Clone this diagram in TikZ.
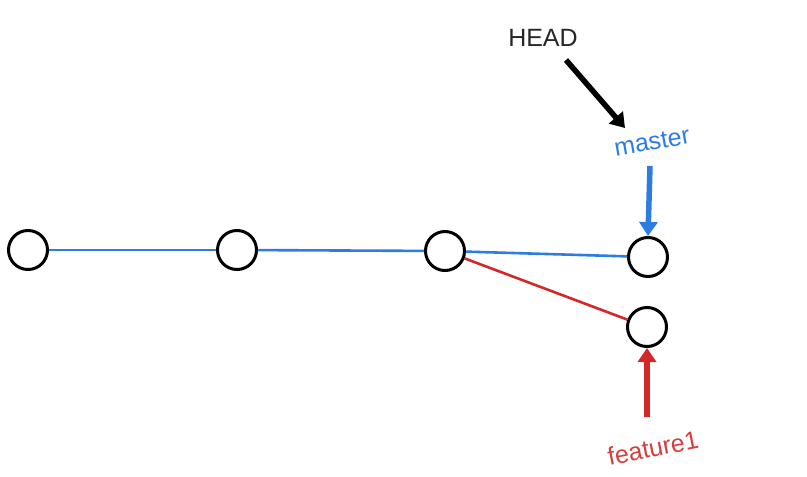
\documentclass[tikz,border=0pt]{standalone}
\usepackage{fontspec}
\setmainfont{Liberation Sans}
\usetikzlibrary{arrows.meta}
\definecolor{gblue}{RGB}{45,125,225}
\definecolor{gred}{RGB}{210,40,40}
\begin{document}
\begin{tikzpicture}[x=1pt,y=-1pt,
  commit/.style={circle,draw=black,line width=3pt,minimum size=39pt,inner sep=0pt},
  ptr/.style={line width=5.5pt,-{Triangle[width=18pt,length=14pt]}},
  link/.style={line width=2.6pt},
  lbl/.style={font=\fontsize{25}{25}\selectfont,inner sep=0pt}]
\useasboundingbox (0,0) rectangle (807,477);
\node[commit] (c1) at (28,250) {};
\node[commit] (c2) at (237,250) {};
\node[commit] (c3) at (445,251) {};
\node[commit] (c4) at (648,257) {};
\node[commit] (c5) at (647,327) {};
\draw[link,gblue] (c1) -- (c2);
\draw[link,gblue] (c2) -- (c3);
\draw[link,gblue] (c3) -- (c4);
\draw[link,gred] (c3) -- (c5);
\node[lbl,text=black!85] (head) at (543,38) {HEAD};
\node[lbl,text=gblue,rotate=10] (master) at (652,142) {master};
\node[lbl,text=gred!90,rotate=11] (feat) at (653,448) {feature1};
\coordinate (hs) at (566,60);
\coordinate (he) at (625,128);
\draw[ptr,black] (hs) -- (he);
\coordinate (ms) at (650,166);
\draw[ptr,gblue] (ms) -- (c4.north);
\coordinate (fs) at (647,417);
\draw[ptr,gred] (fs) -- (c5.south);
\end{tikzpicture}
\end{document}
